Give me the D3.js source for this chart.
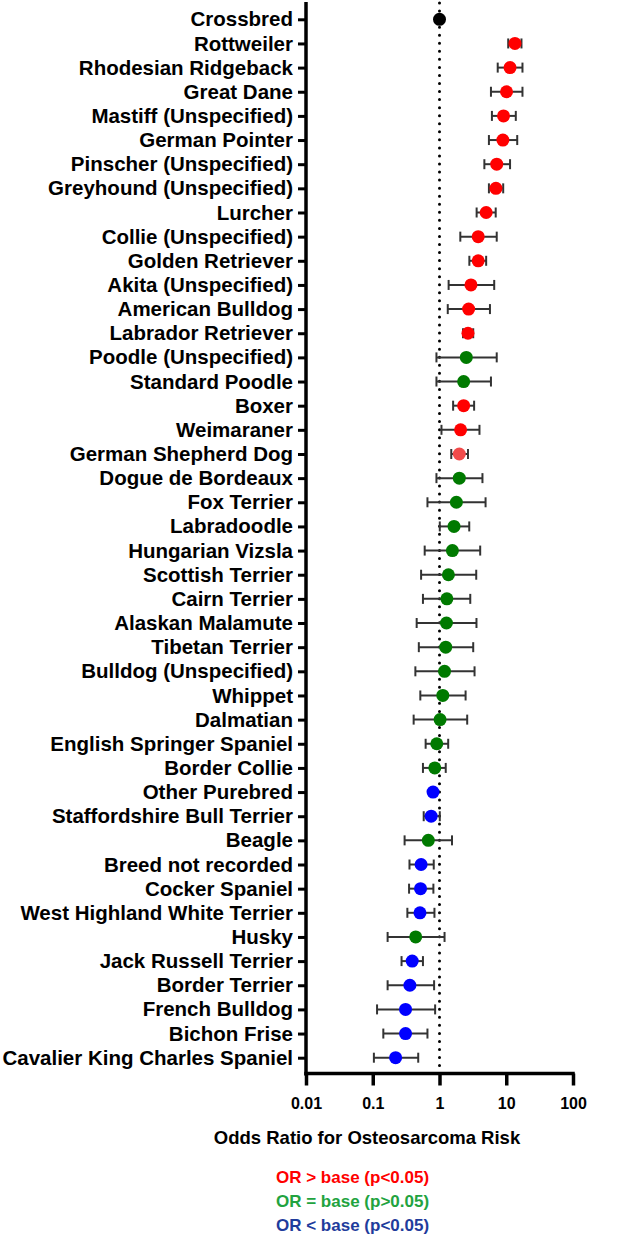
<!DOCTYPE html>
<html>
<head>
<meta charset="utf-8">
<script src="https://cdn.jsdelivr.net/npm/d3@7"></script>
<style>
  body { margin: 0; background: #fff; }
  svg { display: block; font-family: "Liberation Sans", Arial, sans-serif; font-weight: bold; }
</style>
</head>
<body>
<div id="chart"></div>
<script>
// breeds top to bottom
var breeds = ['Crossbred', 'Rottweiler', 'Rhodesian Ridgeback', 'Great Dane', 'Mastiff (Unspecified)',
    'German Pointer', 'Pinscher (Unspecified)', 'Greyhound (Unspecified)', 'Lurcher', 'Collie (Unspecified)',
    'Golden Retriever', 'Akita (Unspecified)', 'American Bulldog', 'Labrador Retriever', 'Poodle (Unspecified)',
    'Standard Poodle', 'Boxer', 'Weimaraner', 'German Shepherd Dog', 'Dogue de Bordeaux', 'Fox Terrier',
    'Labradoodle', 'Hungarian Vizsla', 'Scottish Terrier', 'Cairn Terrier', 'Alaskan Malamute', 'Tibetan Terrier',
    'Bulldog (Unspecified)', 'Whippet', 'Dalmatian', 'English Springer Spaniel', 'Border Collie', 'Other Purebred',
    'Staffordshire Bull Terrier', 'Beagle', 'Breed not recorded', 'Cocker Spaniel', 'West Highland White Terrier',
    'Husky', 'Jack Russell Terrier', 'Border Terrier', 'French Bulldog', 'Bichon Frise', 'Cavalier King Charles Spaniel'];

var oddsRatio = [1, 13.5, 11.4, 10.1, 9.1, 8.9, 7.2, 7.0, 5.0, 3.8,
    3.8, 2.96, 2.73, 2.67, 2.52, 2.3, 2.3, 2.07, 1.98, 1.98,
    1.79, 1.65, 1.56, 1.36, 1.29, 1.27, 1.24, 1.19, 1.12, 1.02,
    0.91, 0.85, 0.80, 0.75, 0.68, 0.53, 0.52, 0.51, 0.44, 0.39,
    0.36, 0.31, 0.31, 0.22];

var ciLow = [null, 10.7, 7.45, 5.9, 6.1, 5.5, 4.7, 5.5, 3.6, 2.05,
    2.8, 1.37, 1.33, 2.25, 0.90, 0.90, 1.6, 1.07, 1.5, 0.90,
    0.66, 1.01, 0.60, 0.53, 0.565, 0.455, 0.49, 0.435, 0.516, 0.41,
    0.62, 0.565, 0.74, 0.58, 0.30, 0.355, 0.35, 0.33, 0.167, 0.27,
    0.167, 0.116, 0.144, 0.104];

var ciHigh = [null, 16.9, 17.5, 17.5, 13.9, 14.6, 11.4, 9.0, 6.95, 7.2,
    5.0, 6.6, 5.7, 3.2, 7.2, 5.9, 3.3, 3.97, 2.67, 4.4,
    4.9, 2.79, 4.07, 3.55, 2.89, 3.58, 3.2, 3.35, 2.46, 2.6,
    1.35, 1.24, 0.86, 1.01, 1.54, 0.82, 0.81, 0.84, 1.19, 0.565,
    0.83, 0.86, 0.66, 0.48];

// base = reference, hi = higher risk, eq = no difference, lo = lower risk
var groups = ['base', 'hi', 'hi', 'hi', 'hi', 'hi', 'hi', 'hi', 'hi', 'hi',
    'hi', 'hi', 'hi', 'hi', 'eq', 'eq', 'hi', 'hi', 'hi2', 'eq',
    'eq', 'eq', 'eq', 'eq', 'eq', 'eq', 'eq', 'eq', 'eq', 'eq',
    'eq', 'eq', 'lo', 'lo', 'eq', 'lo', 'lo', 'lo', 'eq', 'lo',
    'lo', 'lo', 'lo', 'lo'];

var xTicks = [0.01, 0.1, 1, 10, 100];
var xTickLabels = ['0.01', '0.1', '1', '10', '100'];
var legendLabels = ['OR > base (p<0.05)', 'OR = base (p>0.05)', 'OR < base (p<0.05)'];

var width = 626;
var height = 1241;

var dotColor = { base: '#000000', hi: '#ff0000', hi2: '#f04a4a', eq: '#007a00', lo: '#0000ff' };
var legendColor = ['#ff0000', '#22a33f', '#1f3c9c'];

var rows = breeds.map(function (b, i) {
    return { breed: b, or: oddsRatio[i], lo: ciLow[i], hi: ciHigh[i], group: groups[i] };
});

var svg = d3.select('#chart').append('svg')
    .attr('width', width)
    .attr('height', height);

var x = d3.scaleLog()
    .domain([0.01, 100])
    .range([306, 573]);

var y = d3.scalePoint()
    .domain(breeds)
    .range([19.3, 1057.7]);

var axisY = 1073.5;

// reference line at OR = 1
svg.append('line')
    .attr('x1', x(1)).attr('x2', x(1))
    .attr('y1', 3).attr('y2', axisY)
    .attr('stroke', '#000')
    .attr('stroke-width', 3)
    .attr('stroke-linecap', 'round')
    .attr('stroke-dasharray', '0 8.05');

// y axis
var yAxis = svg.append('g')
    .attr('transform', 'translate(' + x(0.01) + ',0)')
    .call(d3.axisLeft(y).tickSize(8).tickSizeOuter(0).tickPadding(5));
yAxis.select('.domain').remove();
yAxis.selectAll('.tick line').attr('stroke', '#000').attr('stroke-width', 3);
yAxis.selectAll('.tick text')
    .attr('fill', '#000')
    .style('font-size', '20.5px')
    .style('font-family', '"Liberation Sans", Arial, sans-serif')
    .style('font-weight', 'bold');
yAxis.append('line')
    .attr('x1', 0).attr('x2', 0)
    .attr('y1', 2).attr('y2', axisY + 2)
    .attr('stroke', '#000')
    .attr('stroke-width', 3.5);

// x axis
var xAxis = svg.append('g')
    .attr('transform', 'translate(0,' + axisY + ')')
    .call(d3.axisBottom(x)
        .tickValues(xTicks)
        .tickFormat(function (d, i) { return xTickLabels[i]; })
        .tickSize(12)
        .tickSizeOuter(0)
        .tickPadding(12));
xAxis.select('.domain').attr('stroke', '#000').attr('stroke-width', 3.5)
    .attr('d', 'M' + (x(0.01) - 1.75) + ',0H' + (x(100) + 1.75));
xAxis.selectAll('.tick line').attr('stroke', '#000').attr('stroke-width', 3.5);
xAxis.selectAll('.tick text')
    .attr('fill', '#000')
    .style('font-size', '16px')
    .style('font-family', '"Liberation Sans", Arial, sans-serif')
    .style('font-weight', 'bold');

// error bars
var ci = svg.append('g')
    .selectAll('g')
    .data(rows.filter(function (d) { return d.lo != null; }))
    .enter()
    .append('g')
    .attr('stroke', '#333')
    .attr('stroke-width', 2);
ci.append('line')
    .attr('x1', function (d) { return x(d.lo); })
    .attr('x2', function (d) { return x(d.hi); })
    .attr('y1', function (d) { return y(d.breed); })
    .attr('y2', function (d) { return y(d.breed); });
ci.append('line')
    .attr('x1', function (d) { return x(d.lo); })
    .attr('x2', function (d) { return x(d.lo); })
    .attr('y1', function (d) { return y(d.breed) - 5; })
    .attr('y2', function (d) { return y(d.breed) + 5; });
ci.append('line')
    .attr('x1', function (d) { return x(d.hi); })
    .attr('x2', function (d) { return x(d.hi); })
    .attr('y1', function (d) { return y(d.breed) - 5; })
    .attr('y2', function (d) { return y(d.breed) + 5; });

// points
svg.append('g')
    .selectAll('circle')
    .data(rows)
    .enter()
    .append('circle')
    .attr('cx', function (d) { return x(d.or); })
    .attr('cy', function (d) { return y(d.breed); })
    .attr('r', 6.5)
    .attr('fill', function (d) { return dotColor[d.group]; });

// axis title
svg.append('text')
    .attr('x', 367)
    .attr('y', 1144)
    .attr('text-anchor', 'middle')
    .style('font-size', '18.5px')
    .text('Odds Ratio for Osteosarcoma Risk');

// legend
svg.append('g')
    .selectAll('text')
    .data(legendLabels)
    .enter()
    .append('text')
    .attr('x', 276)
    .attr('y', function (d, i) { return 1183 + i * 24; })
    .attr('fill', function (d, i) { return legendColor[i]; })
    .style('font-size', '17px')
    .text(function (d) { return d; });
</script>
</body>
</html>
